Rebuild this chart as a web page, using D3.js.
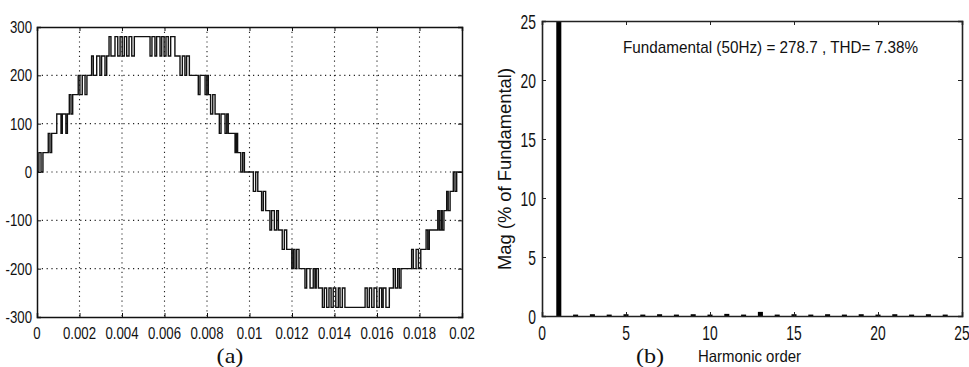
<!DOCTYPE html>
<html><head><meta charset="utf-8">
<script src="https://cdn.jsdelivr.net/npm/d3@7"></script>
<style>html,body{margin:0;padding:0;background:#fff;}svg{display:block;}</style>
</head><body>
<script>
// ---- Data (a): multilevel inverter output voltage, step times (ms) and levels (V)
const waveT = [0,
 0.09,0.19,0.28, 0.53,0.61,0.69, 0.93,1.13,1.19,1.36,1.43, 1.52,1.60,1.68,
 1.94,2.02,2.13,2.26,2.35, 2.57,2.65,2.81,2.96,3.04,3.20,3.28,
 3.39,3.48,3.67,3.80,3.91,4.01,4.11,4.22,4.33,4.46,4.58,
 5.32,5.41,5.55,5.63,5.79,5.87,5.98,6.07,6.18,6.29,6.49,
 6.73,6.84,6.96,7.04,7.17, 7.59,7.67,7.91,7.99,8.06, 8.17,8.27,8.38,
 8.58,8.66,8.85,8.93,9.00, 9.32,9.38,9.44, 9.59,9.68,9.76,
 10.18,10.29,10.39, 10.57,10.65,10.76, 10.96,11.04,11.17,11.28,11.36, 11.54,11.64,11.75,
 11.99,12.06,12.14,12.22,12.33, 12.61,12.69,12.85,13.00,13.08,13.14,13.24,
 13.43,13.52,13.63,13.74,13.84,13.94,14.06,14.18,14.26,14.37,14.49,
 15.44,15.54,15.64,15.75,15.86,15.99,16.11,16.22,16.29,16.42,16.58,
 16.77,16.86,16.97,17.05,17.13, 17.63,17.71,17.84,17.95,18.06, 18.31,18.39,18.46,
 18.86,18.93,19.01,19.07,19.15, 19.28,19.35,19.44, 19.59,19.67,19.75, 20];
const waveV = [0,
 40,0,40, 80,40,80, 120,80,120,80,120, 160,120,160,
 200,160,200,160,200, 240,200,240,200,240,200,240,
 280,240,280,240,280,240,280,240,280,240,280,
 240,280,240,280,240,280,240,280,240,280,240,
 200,240,200,240,200, 160,200,160,200,160, 120,160,120,
 80,120,80,120,80, 40,80,40, 0,40,0,
 -40,0,-40, -80,-40,-80, -120,-80,-120,-80,-120, -160,-120,-160,
 -200,-160,-200,-160,-200, -240,-200,-240,-200,-240,-200,-240,
 -280,-240,-280,-240,-280,-240,-280,-240,-280,-240,-280,
 -240,-280,-240,-280,-240,-280,-240,-280,-240,-280,-240,
 -200,-240,-200,-240,-200, -160,-200,-160,-200,-160, -120,-160,-120,
 -80,-120,-80,-120,-80, -40,-80,-40, 0,-40,0, 0];

const xTicksA = [0,0.002,0.004,0.006,0.008,0.01,0.012,0.014,0.016,0.018,0.02];
const yTicksA = [-300,-200,-100,0,100,200,300];

// ---- Data (b): harmonic spectrum (% of fundamental)
const harmOrder = [1,2,3,4,5,6,7,8,9,10,11,12,13,14,15,16,17,18,19,20,21,22,23,24];
const harmMag   = [100,0.12,0.15,0.12,0.15,0.12,0.15,0.12,0.15,0.12,0.18,0.12,0.35,0.12,0.15,0.12,0.15,0.12,0.15,0.12,0.15,0.12,0.15,0.12];
const xTicksB = [0,5,10,15,20,25];
const yTicksB = [0,5,10,15,20,25];
const infoText = "Fundamental (50Hz) = 278.7 , THD= 7.38%";

const W = 969, H = 367;
const svg = d3.select("body").append("svg").attr("width", W).attr("height", H);
const SANS = "Liberation Sans, Arial, sans-serif";
const SERIF = "Liberation Serif, Times New Roman, serif";

function sText(g, x, y, str, size, sx, anchor, family) {
  return g.append("text")
    .attr("transform", `translate(${x},${y}) scale(${sx},1)`)
    .attr("text-anchor", anchor || "middle")
    .attr("font-family", family || SANS)
    .attr("font-size", size)
    .attr("fill", "#111")
    .text(str);
}

// ================= Panel (a) =================
const A = {l: 37, r: 462, t: 27, b: 317};
const xa = d3.scaleLinear().domain([0, 0.02]).range([A.l, A.r]);
const ya = d3.scaleLinear().domain([-300, 300]).range([A.b, A.t]);
const ga = svg.append("g");

// grid
ga.selectAll(".gx").data(xTicksA.slice(1, -1)).enter().append("line")
  .attr("x1", d => xa(d)).attr("x2", d => xa(d)).attr("y1", A.t).attr("y2", A.b)
  .attr("stroke", "#222").attr("stroke-width", 1.1).attr("stroke-dasharray", "1.2,3.6");
ga.selectAll(".gy").data(yTicksA.slice(1, -1)).enter().append("line")
  .attr("y1", d => ya(d)).attr("y2", d => ya(d)).attr("x1", A.l).attr("x2", A.r)
  .attr("stroke", "#222").attr("stroke-width", 1.1).attr("stroke-dasharray", "1.2,3.6");

// waveform
const wave = waveT.map((t, i) => ({t: t / 1000, v: waveV[i]}));
ga.append("path").datum(wave)
  .attr("d", d3.line().x(d => xa(d.t)).y(d => ya(d.v)).curve(d3.curveStepAfter))
  .attr("fill", "none").attr("stroke", "#111").attr("stroke-width", 1.4);

// axes (inward ticks on all sides)
const tl = 4;
ga.append("g").attr("transform", `translate(0,${A.b})`)
  .call(d3.axisBottom(xa).tickValues(xTicksA).tickSize(-tl).tickFormat(""));
ga.append("g").attr("transform", `translate(0,${A.t})`)
  .call(d3.axisTop(xa).tickValues(xTicksA).tickSize(-tl).tickFormat(""));
ga.append("g").attr("transform", `translate(${A.l},0)`)
  .call(d3.axisLeft(ya).tickValues(yTicksA).tickSize(-tl).tickFormat(""));
ga.append("g").attr("transform", `translate(${A.r},0)`)
  .call(d3.axisRight(ya).tickValues(yTicksA).tickSize(-tl).tickFormat(""));
ga.selectAll(".domain").attr("stroke", "#111").attr("stroke-width", 1.5);
ga.selectAll(".tick line").attr("stroke", "#111");

xTicksA.forEach(v => sText(ga, xa(v), 338.5, String(+v.toFixed(3)), 16.5, 0.8, "middle"));
yTicksA.forEach(v => sText(ga, 32, ya(v) + 6, String(v), 16.5, 0.8, "end"));
sText(ga, 230, 363, "(a)", 22, 1.1, "middle", SERIF);

// ================= Panel (b) =================
const B = {l: 542, r: 962, t: 21, b: 316};
const xb = d3.scaleLinear().domain([0, 25]).range([B.l, B.r]);
const yb = d3.scaleLinear().domain([0, 25]).range([B.b, B.t]);
const gb = svg.append("g");
const bw = xb(0.3) - xb(0);
gb.append("clipPath").attr("id", "clipb").append("rect")
  .attr("x", B.l).attr("y", B.t).attr("width", B.r - B.l).attr("height", B.b - B.t);
gb.append("g").attr("clip-path", "url(#clipb)")
  .selectAll("rect").data(harmOrder.map((h, i) => ({h, m: harmMag[i]}))).enter().append("rect")
  .attr("x", d => xb(d.h) - bw / 2).attr("width", bw)
  .attr("y", d => yb(d.m)).attr("height", d => yb(0) - yb(d.m))
  .attr("fill", "#000");

gb.append("g").attr("transform", `translate(0,${B.b})`)
  .call(d3.axisBottom(xb).tickValues(xTicksB).tickSize(-tl).tickFormat(""));
gb.append("g").attr("transform", `translate(0,${B.t})`)
  .call(d3.axisTop(xb).tickValues(xTicksB).tickSize(-tl).tickFormat(""));
gb.append("g").attr("transform", `translate(${B.l},0)`)
  .call(d3.axisLeft(yb).tickValues(yTicksB).tickSize(-tl).tickFormat(""));
gb.append("g").attr("transform", `translate(${B.r},0)`)
  .call(d3.axisRight(yb).tickValues(yTicksB).tickSize(-tl).tickFormat(""));
gb.selectAll(".domain").attr("stroke", "#222").attr("stroke-width", 1.6);
gb.selectAll(".tick line").attr("stroke", "#222");

xTicksB.forEach(v => sText(gb, xb(v), 340, String(v), 21, 0.66, "middle"));
yTicksB.forEach(v => sText(gb, 536, yb(v) + 7.5, String(v), 21, 0.66, "end"));

gb.append("text").attr("x", 623).attr("y", 53)
  .attr("font-family", SANS).attr("font-size", 17).attr("fill", "#111")
  .attr("textLength", 295).attr("lengthAdjust", "spacingAndGlyphs").text(infoText);
gb.append("text").attr("transform", "translate(511,169) rotate(-90)")
  .attr("text-anchor", "middle")
  .attr("font-family", SANS).attr("font-size", 18).attr("fill", "#111")
  .attr("textLength", 202).attr("lengthAdjust", "spacingAndGlyphs").text("Mag (% of Fundamental)");
gb.append("text").attr("x", 698).attr("y", 362)
  .attr("font-family", SANS).attr("font-size", 16.5).attr("fill", "#111")
  .attr("textLength", 103).attr("lengthAdjust", "spacingAndGlyphs").text("Harmonic order");
sText(gb, 650, 363, "(b)", 22, 1.1, "middle", SERIF);
</script>
</body></html>
